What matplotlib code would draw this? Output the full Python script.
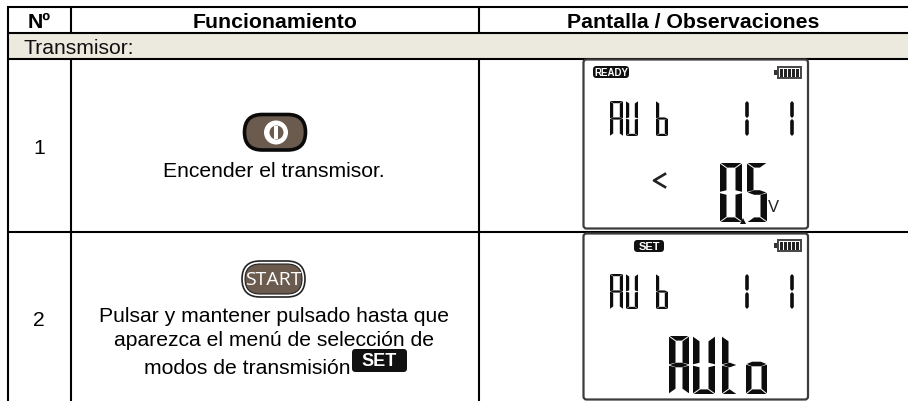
import matplotlib
matplotlib.use('agg')
import matplotlib.pyplot as plt
from matplotlib.patches import Polygon, Rectangle, FancyBboxPatch, Circle

plt.rcParams['font.family'] = ['Liberation Sans', 'DejaVu Sans']

# table content
headers = ["Nº", "Funcionamiento", "Pantalla / Observaciones"]
section = "Transmisor:"
row_numbers = ["1", "2"]
row1_text = "Encender el transmisor."
row2_lines = ["Pulsar y mantener pulsado hasta que",
              "aparezca el menú de selección de",
              "modos de transmisión"]
start_label = "START"
ready_label = "READY"
set_label = "SET"
unit_label = "V"
small_lcd_text = ["A", "U", "b", "1", "1"]
big_lcd_row1 = ["0", "5"]
big_lcd_row2 = ["A", "U", "t", "o"]

# which segments are on for each lcd character
SEGMENTS = {"A": "abcefg", "U": "bcdef", "b": "cdefg", "0": "abcdef",
            "5": "acdfg", "t": "defg", "o": "cdeg"}

BROWN = "#6b5b4f"
INK = "#0d0d0d"
BAND = "#ece9df"

fig = plt.figure(figsize=(9.08, 4.02), dpi=100)
ax = fig.add_axes([0, 0, 1, 1])
ax.set_xlim(0, 908)
ax.set_ylim(402, 0)
ax.axis("off")


# draw one seven segment character inside a pixel box
# t = vertical segment width, h = horizontal segment height
def lcd_char(ch, x0, y0, x1, y1, t, h, g=0.7):
    on = SEGMENTS[ch]
    ym = (y0 + y1) / 2
    polys = {
        "a": [(x0 + g, y0), (x1 - g, y0), (x1 - g - t, y0 + h), (x0 + g + t, y0 + h)],
        "d": [(x0 + g, y1), (x1 - g, y1), (x1 - g - t, y1 - h), (x0 + g + t, y1 - h)],
        "f": [(x0, y0 + g), (x0 + t, y0 + g + h), (x0 + t, ym - g - h / 3), (x0, ym - g)],
        "e": [(x0, y1 - g), (x0 + t, y1 - g - h), (x0 + t, ym + g + h / 3), (x0, ym + g)],
        "b": [(x1, y0 + g), (x1 - t, y0 + g + h), (x1 - t, ym - g - h / 3), (x1, ym - g)],
        "c": [(x1, y1 - g), (x1 - t, y1 - g - h), (x1 - t, ym + g + h / 3), (x1, ym + g)],
        "g": [(x0 + g, ym), (x0 + g + t, ym - h / 2), (x1 - g - t, ym - h / 2),
              (x1 - g, ym), (x1 - g - t, ym + h / 2), (x0 + g + t, ym + h / 2)],
    }
    for s in on:
        ax.add_patch(Polygon(polys[s], closed=True, fc=INK, ec="none", zorder=4))


# lcd "1" is a single tapered bar split in the middle
def lcd_one(xc, y0, y1, w=3.6):
    ym = (y0 + y1) / 2
    for a, b in ((y0, ym - 0.4), (ym + 0.4, y1)):
        ax.add_patch(Polygon([(xc - w / 2, a + 2), (xc, a), (xc + w / 2, a + 2),
                              (xc + w / 2, b - 2), (xc, b), (xc - w / 2, b - 2)],
                             closed=True, fc=INK, ec="none", zorder=4))


def badge(x0, y0, x1, y1, label, size):
    ax.add_patch(FancyBboxPatch((x0 + 3, y0 + 3), x1 - x0 - 6, y1 - y0 - 6,
                                boxstyle="round,pad=3,rounding_size=3.5",
                                fc="#111111", ec="none", zorder=4))
    ax.text((x0 + x1) / 2, (y0 + y1) / 2 + 0.3, label, color="white", fontsize=size,
            fontweight="bold", ha="center", va="center", zorder=5)


def battery(x0, y0):
    ax.add_patch(Rectangle((x0, y0 + 4), 3.5, 5, fc="#333333", ec="none", zorder=4))
    ax.add_patch(Rectangle((x0 + 3.5, y0 + 0.8), 23, 11, fc="white", ec="#444444", lw=1.4, zorder=4))
    for k in range(5):
        ax.add_patch(Rectangle((x0 + 6 + k * 4.1, y0 + 2.5), 2.6, 8, fc="#222222", ec="none", zorder=5))


def panel(y0, y1):
    ax.add_patch(FancyBboxPatch((585, y0 + 2), 221.5, y1 - y0 - 4,
                                boxstyle="round,pad=1.5,rounding_size=3",
                                fc="white", ec="#3c3c3c", lw=1.6, zorder=3))


def small_row(y0, y1):
    boxes = [(610, 623), (626, 638), (656, 668)]
    for ch, (a, b) in zip(small_lcd_text[:3], boxes):
        lcd_char(ch, a, y0, b, y1, 3.2, 2.2, 0.3)
    for xc in (747, 792):
        lcd_one(xc, y0, y1)


# band and grid lines
ax.add_patch(Rectangle((8, 34), 900, 25.5, fc=BAND, ec="none", zorder=1))
for y in (8, 33.5, 60, 232.5):
    ax.plot([7, 908], [y, y], color="black", lw=1.5, solid_capstyle="butt", zorder=2)
ax.plot([8, 8], [7, 402], color="black", lw=1.5, solid_capstyle="butt", zorder=2)
for y0, y1 in ((8, 33.5), (60, 402)):
    ax.plot([71, 71], [y0, y1], color="black", lw=1.5, solid_capstyle="butt", zorder=2)
    ax.plot([479, 479], [y0, y1], color="black", lw=1.5, solid_capstyle="butt", zorder=2)

# header text
for x, label in zip((39.5, 275, 693), headers):
    ax.text(x, 27.5, label, fontsize=15.3, fontweight="bold", ha="center",
            va="baseline", color="black", zorder=5)
ax.text(24, 54, section, fontsize=15.2, va="baseline", color="#111111", zorder=5)

# row text
ax.text(39, 154, row_numbers[0], fontsize=15.2, ha="center", va="baseline", zorder=5)
ax.text(39, 326.5, row_numbers[1], fontsize=15.2, ha="center", va="baseline", zorder=5)
ax.text(274, 177, row1_text, fontsize=15.2, ha="center", va="baseline", zorder=5)
ax.text(274, 322, row2_lines[0], fontsize=15.2, ha="center", va="baseline", zorder=5)
ax.text(274, 346, row2_lines[1], fontsize=15.2, ha="center", va="baseline", zorder=5)
ax.text(350, 374, row2_lines[2], fontsize=15.2, ha="right", va="baseline", zorder=5)
badge(352, 350, 407, 373, set_label, 13)

# power button
ax.add_patch(FancyBboxPatch((244.5, 115.5), 61, 35.5, boxstyle="round,pad=0,rounding_size=17.7",
                            fc=BROWN, ec="#0a0a0a", lw=2.6, zorder=3))
ax.add_patch(Circle((276, 133.5), 12, fc="white", ec="none", zorder=4))
ax.add_patch(Circle((276.5, 133.5), 7, fc=BROWN, ec="none", zorder=5))
ax.add_patch(Rectangle((273.5, 127), 4, 13, fc="white", ec="none", zorder=6))

# start button
ax.add_patch(FancyBboxPatch((242, 262), 63, 36, boxstyle="round,pad=0,rounding_size=18",
                            fc="white", ec="#222222", lw=1.2, zorder=3))
ax.add_patch(FancyBboxPatch((245, 265), 57, 30, boxstyle="round,pad=0,rounding_size=15",
                            fc=BROWN, ec="#222222", lw=0.8, zorder=4))
ax.text(273.5, 280.5, start_label, color="white", fontsize=14, family="Open Sans",
        ha="center", va="center", zorder=5)

# first lcd
panel(60, 230)
badge(593, 67, 629, 79, ready_label, 7)
battery(774, 67)
small_row(102, 137)
ax.plot([665, 654, 665], [175, 181.5, 188], color="#222222", lw=1.9, zorder=4)
lcd_char(big_lcd_row1[0], 720, 164, 742, 223, 6.5, 4.6)
lcd_char(big_lcd_row1[1], 747, 164, 767, 223, 6.5, 4.6)
ax.add_patch(Polygon([(740, 225), (746, 225), (743, 219)], closed=True, fc=INK, ec="none", zorder=4))
ax.text(773, 212, unit_label, fontsize=12, ha="center", va="baseline", color="#222222", zorder=5)

# second lcd
panel(234, 401)
badge(634, 241, 664, 253, set_label, 8)
battery(774, 240)
small_row(275, 310)
lcd_char(big_lcd_row2[0], 669, 337, 689, 395, 6.5, 4.6)
lcd_char(big_lcd_row2[1], 693, 337, 715, 395, 6.5, 4.6)
lcd_char(big_lcd_row2[2], 722, 337, 737, 395, 6.5, 4.6)
lcd_char(big_lcd_row2[3], 746, 335, 767, 395, 5.5, 4.6)

fig.savefig("out.png", dpi=100)
